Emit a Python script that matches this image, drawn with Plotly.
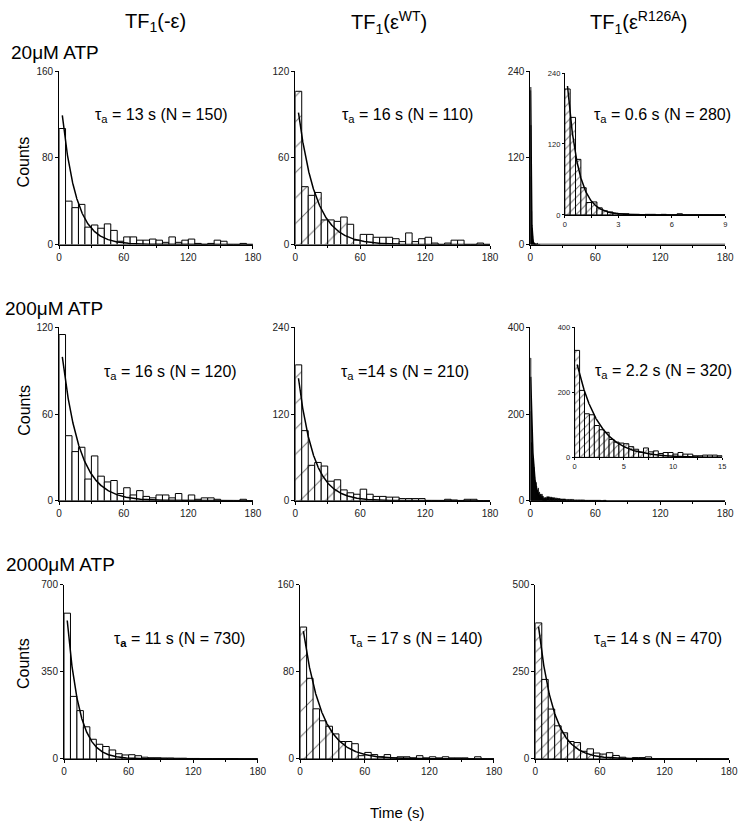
import numpy as np
import plotly.graph_objects as go

W, H = 747, 830
FONT = "Liberation Sans, Arial, sans-serif"

# ---------------- data ----------------
col_titles = ["TF<sub>1</sub>(-ε)", "TF<sub>1</sub>(ε<sup>WT</sup>)", "TF<sub>1</sub>(ε<sup>R126A</sup>)"]
row_labels = ["20μM ATP", "200μM ATP", "2000μM ATP"]
x_title = "Time (s)"
y_title = "Counts"

main_bin = 6.0  # s
counts_20_neg = [107, 40, 34, 37, 16, 18, 15, 19, 13, 3, 7, 7, 4, 4, 5, 4, 2, 7, 2, 4, 5, 1, 0, 1, 4, 3, 0, 0, 1, 0]
counts_20_wt = [106, 40, 34, 36, 17, 17, 16, 19, 14, 3, 7, 7, 5, 5, 5, 4, 2, 8, 2, 4, 5, 1, 0, 1, 3, 3, 0, 0, 1, 0]
counts_200_neg = [115, 45, 34, 37, 15, 31, 17, 13, 14, 5, 9, 4, 7, 3, 2, 4, 4, 2, 5, 0, 4, 1, 2, 2, 1, 0, 0, 0, 1, 0]
counts_200_wt = [188, 97, 49, 53, 48, 27, 29, 15, 11, 9, 16, 9, 6, 6, 5, 5, 3, 3, 3, 3, 0, 0, 0, 2, 1, 0, 2, 2, 0, 0]
counts_2000_neg = [585, 251, 194, 129, 79, 59, 50, 36, 21, 16, 17, 13, 7, 5, 5, 4, 4, 3, 3, 2, 2, 1, 1, 1, 1, 1, 1, 0, 0, 0]
counts_2000_wt = [121, 74, 46, 35, 30, 23, 16, 16, 14, 3, 6, 4, 2, 4, 1, 2, 2, 1, 3, 1, 2, 1, 2, 1, 1, 1, 0, 2, 0, 0]
counts_2000_r126a = [390, 228, 143, 95, 75, 50, 47, 22, 29, 17, 14, 18, 10, 5, 2, 4, 4, 6, 1, 1, 0, 0, 0, 0, 0, 0, 0, 0, 0, 0]

bin_20_r126a = 0.3  # s
counts_20_r126a = [213, 165, 94, 46, 21, 22, 12, 7, 5, 3, 2, 2, 1, 1, 0, 1, 1, 0, 1, 0, 0, 2, 0, 0, 0, 0, 0, 0, 0, 0]
bin_200_r126a = 0.5  # s
counts_200_r126a = [329, 206, 134, 131, 98, 85, 77, 55, 47, 44, 42, 33, 25, 16, 29, 17, 20, 12, 15, 15,
                    10, 15, 10, 10, 5, 5, 7, 7, 7, 5]
tail_bin_200_r126a = 2.5  # s, beyond 15 s
tail_200_r126a = [9, 8, 7, 6, 5, 4, 4, 3, 3, 3, 2, 2, 2, 2, 1, 1, 1, 1, 1, 1, 0, 1]

# single-exponential fits: amplitude (N) and dwell time tau_a (s)
fit_amp = {"20_neg": 150, "20_wt": 110, "20_r126a": 280,
           "200_neg": 120, "200_wt": 210, "200_r126a": 320,
           "2000_neg": 730, "2000_wt": 140, "2000_r126a": 470}
fit_tau = {"20_neg": 13, "20_wt": 16, "20_r126a": 0.6,
           "200_neg": 16, "200_wt": 14, "200_r126a": 2.2,
           "2000_neg": 11, "2000_wt": 17, "2000_r126a": 14}

labels = [
    "τ<sub>a</sub> = 13 s (N = 150)", "τ<sub>a</sub> = 16 s (N = 110)", "τ<sub>a</sub> = 0.6 s (N = 280)",
    "τ<sub>a</sub> = 16 s (N = 120)", "τ<sub>a</sub> =14 s (N = 210)", "τ<sub>a</sub> = 2.2 s (N = 320)",
    "τ<sub><b>a</b></sub> = 11 s (N = 730)", "τ<sub>a</sub> = 17 s (N = 140)", "τ<sub>a</sub>= 14 s (N = 470)",
]

# ---------------- layout geometry (px) ----------------
def xd(l, r):
    return [l / W, r / W]

def yd(top, bottom):
    return [1 - bottom / H, 1 - top / H]

main_cols_px = [[(57, 254), (297, 495), (536, 734)],
                [(57, 254), (297, 495), (536, 734)],
                [(62, 259), (302, 499), (541, 738)]]
main_rows_px = [(66, 242), (326, 502), (587, 764)]
y_ranges = [[160, 120, 240], [120, 240, 400], [700, 160, 500]]
y_dticks = [[80, 60, 120], [60, 120, 200], [350, 80, 250]]

fig = go.Figure()
layout = {}


def axname(i, kind):
    return kind + ("" if i == 1 else str(i))


def add_axes(i, xdom, ydom, xr, yr, xdt, xminor, ydt, fsize, tlen):
    common = dict(showline=True, linecolor="black", linewidth=1, ticks="outside", ticklen=tlen,
                  tickwidth=1, tickcolor="black", showgrid=False, zeroline=False,
                  tickfont=dict(family=FONT, size=fsize, color="#222"), fixedrange=True)
    layout[axname(i, "xaxis")] = dict(domain=xdom, range=xr, dtick=xdt, tick0=0,
                                      anchor=axname(i, "y"),
                                      minor=dict(dtick=xminor, ticks="outside", ticklen=max(tlen - 1, 2),
                                                 tickcolor="black", showgrid=False), **common)
    layout[axname(i, "yaxis")] = dict(domain=ydom, range=yr, dtick=ydt, tick0=0,
                                      anchor=axname(i, "x"), **common)


def add_hist(i, counts, bw, start=0.0, style="plain", n_hatch=0, hsize=18):
    centers = [start + bw * (k + 0.5) for k in range(len(counts))]
    xa, ya = axname(i, "x"), axname(i, "y")
    if style == "black":
        marker = dict(color="black", line=dict(color="black", width=0.6))
    elif style == "plain":
        marker = dict(color="white", line=dict(color="black", width=1))
    else:
        shapes = ["/" if k < n_hatch else "" for k in range(len(counts))]
        marker = dict(color="white", line=dict(color="black", width=1),
                      pattern=dict(shape=shapes, fgcolor="#777", bgcolor="white",
                                   size=hsize, solidity=1.0 / hsize, fillmode="replace"))
    fig.add_trace(go.Bar(x=centers, y=counts, width=bw, marker=marker, xaxis=xa, yaxis=ya,
                         showlegend=False, hoverinfo="skip"))


def add_fit(i, key, x0, x1, n=1500):
    t = np.linspace(x0, x1, n)
    y = fit_amp[key] * np.exp(-t / fit_tau[key])
    fig.add_trace(go.Scatter(x=t, y=y, mode="lines", line=dict(color="black", width=1.5),
                             xaxis=axname(i, "x"), yaxis=axname(i, "y"), showlegend=False,
                             hoverinfo="skip"))


for r in range(3):
    for c in range(3):
        i = r * 3 + c + 1
        l, rr = main_cols_px[r][c]
        top, bot = main_rows_px[r]
        add_axes(i, xd(l, rr), yd(top, bot), [0, 180], [0, y_ranges[r][c]], 60, 30,
                 y_dticks[r][c], 10, 3)

# row 1
add_hist(1, counts_20_neg, main_bin)
add_fit(1, "20_neg", main_bin / 2, 180)
add_hist(2, counts_20_wt, main_bin, style="hatch", n_hatch=9, hsize=18)
add_fit(2, "20_wt", main_bin / 2, 180)
add_hist(3, counts_20_r126a, bin_20_r126a, style="black")
add_fit(3, "20_r126a", bin_20_r126a / 2, 180, n=4000)
# row 2
add_hist(4, counts_200_neg, main_bin)
add_fit(4, "200_neg", main_bin / 2, 180)
add_hist(5, counts_200_wt, main_bin, style="hatch", n_hatch=9, hsize=18)
add_fit(5, "200_wt", main_bin / 2, 180)
add_hist(6, counts_200_r126a, bin_200_r126a, style="black")
add_hist(6, tail_200_r126a, tail_bin_200_r126a, start=15.0, style="black")
add_fit(6, "200_r126a", bin_200_r126a / 2, 180, n=4000)
# row 3
add_hist(7, counts_2000_neg, main_bin)
add_fit(7, "2000_neg", main_bin / 2, 180)
add_hist(8, counts_2000_wt, main_bin, style="hatch", n_hatch=10, hsize=18)
add_fit(8, "2000_wt", main_bin / 2, 180)
add_hist(9, counts_2000_r126a, main_bin, style="hatch", n_hatch=12, hsize=8)
add_fit(9, "2000_r126a", main_bin / 2, 180)

# insets
add_axes(10, xd(571, 734), yd(68, 212), [0, 9], [0, 240], 3, 1.5, 120, 7.5, 2)
add_hist(10, counts_20_r126a, bin_20_r126a, style="hatch", n_hatch=14, hsize=6)
add_fit(10, "20_r126a", bin_20_r126a / 2, 9)
add_axes(11, xd(581, 731), yd(326, 458), [0, 15], [0, 400], 5, 2.5, 200, 7.5, 2)
add_hist(11, counts_200_r126a, bin_200_r126a, style="hatch", n_hatch=17, hsize=6)
add_fit(11, "200_r126a", bin_200_r126a / 2, 15)

annotations = []


def ann(text, px, py, size, xanchor="left", yanchor="middle", angle=0):
    annotations.append(dict(text=text, x=px / W, y=1 - py / H, xref="paper", yref="paper",
                            xanchor=xanchor, yanchor=yanchor, showarrow=False, textangle=angle,
                            font=dict(family=FONT, size=size, color="black")))


for c, (t, cx) in enumerate(zip(col_titles, [155, 392, 646])):
    ann(t, cx, 17, 20, xanchor="center")
for t, (px, py) in zip(row_labels, [(6, 47), (0, 307), (1, 567)]):
    ann(t, px, py, 19)
for py in [158, 410, 667]:
    ann(y_title, 21, py, 16, xanchor="center", angle=-90)
ann(x_title, 400, 818, 15, xanchor="center")

label_pos = [(91, 111), (343, 111), (599, 111),
             (101, 372), (341, 372), (600, 371),
             (111, 643), (351, 643), (599, 643)]
for t, (px, py) in zip(labels, label_pos):
    ann(t, px, py, 16)

fig.update_layout(width=W, height=H, autosize=False, margin=dict(l=0, r=0, t=0, b=0),
                  paper_bgcolor="white", plot_bgcolor="rgba(0,0,0,0)", showlegend=False,
                  barmode="overlay", bargap=0, annotations=annotations,
                  font=dict(family=FONT, color="black"), **layout)

fig.write_html("out.html", config={"displayModeBar": False, "staticPlot": True},
               post_script="document.body.style.margin='0';document.body.style.overflow='hidden';")
